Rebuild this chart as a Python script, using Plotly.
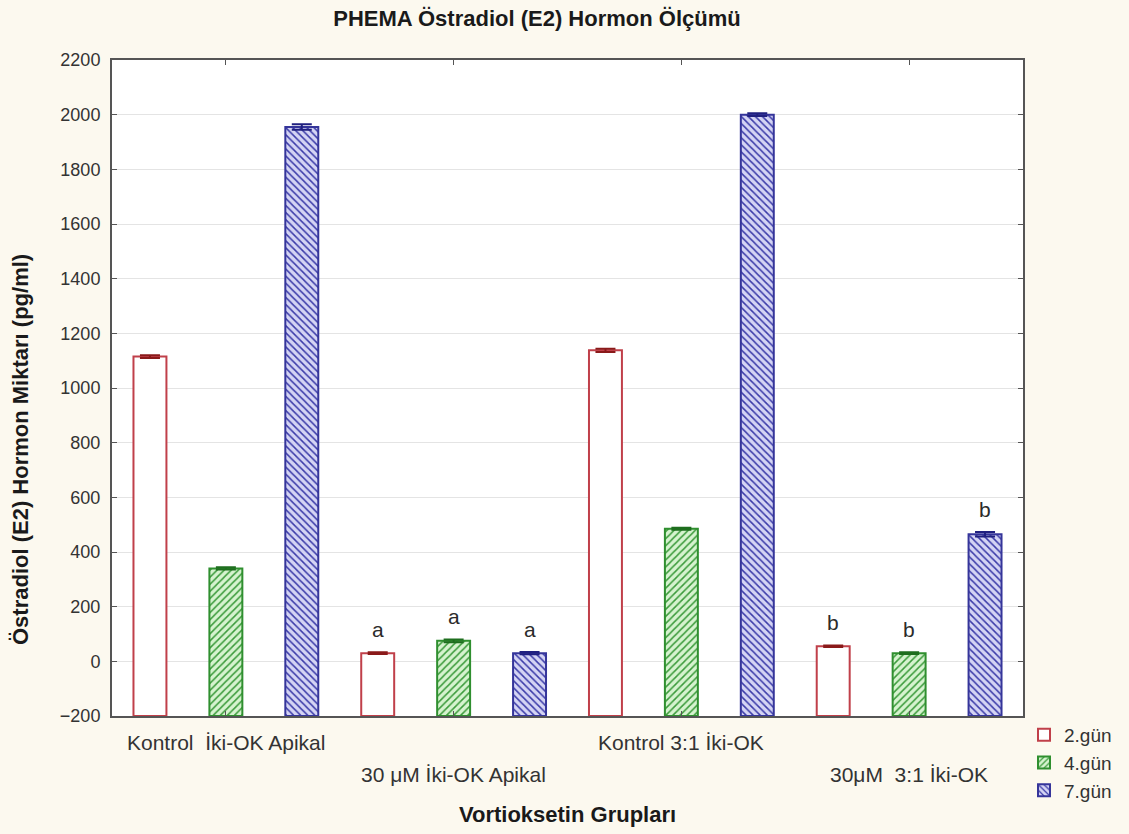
import plotly.graph_objects as go

categories = ["Kontrol  İki-OK Apikal", "30 μM İki-OK Apikal", "Kontrol 3:1 İki-OK", "30μM  3:1 İki-OK"]
label_rows = [1, 2, 1, 2]
series_names = ["2.gün", "4.gün", "7.gün"]
gun2 = [1115, 30, 1138, 55]
gun4 = [340, 75, 485, 30]
gun7 = [1955, 30, 2000, 465]
err2 = [5, 3, 6, 3]
err4 = [4, 5, 4, 3]
err7 = [10, 4, 5, 8]
letters2 = ["", "a", "", "b"]
letters4 = ["", "a", "", "b"]
letters7 = ["", "a", "", "b"]
y_min, y_max, y_step = -200, 2200, 200

series = [gun2, gun4, gun7]
errors = [err2, err4, err7]
letters = [letters2, letters4, letters7]

W, H = 1129, 834
ML, MR, MT, MB = 112, 106, 60, 118
PW, PH = W - ML - MR, H - MT - MB

FONT = "Liberation Sans, Arial, sans-serif"
BOLD_FONT = "Liberation Sans Narrow, Arial Narrow, Liberation Sans, sans-serif"


def px_x(px):
    return (px - ML) / PW


def px_y(py):
    return (H - MB - py) / PH


styles = [
    dict(line="#c0404a", err="#8a1a1a", pattern=dict(shape="", bgcolor="#ffffff")),
    dict(line="#2f8f2f", err="#1e6e1e",
         pattern=dict(shape="/", bgcolor="#d6f3cf", fgcolor="#3a9a3a", size=5, solidity=0.3, fillmode="replace")),
    dict(line="#35359a", err="#202080",
         pattern=dict(shape="\\", bgcolor="#d4d4f4", fgcolor="#3a3aa8", size=5, solidity=0.3, fillmode="replace")),
]

fig = go.Figure()
for name, vals, errs, st in zip(series_names, series, errors, styles):
    fig.add_trace(go.Bar(
        name=name,
        x=categories,
        y=[v - y_min for v in vals],
        base=y_min,
        marker=dict(color="#ffffff", line=dict(color=st["line"], width=2), pattern=st["pattern"]),
        error_y=dict(type="data", array=errs, color=st["err"], thickness=2, width=10),
        hovertemplate="%{x}: %{customdata}<extra>" + name + "</extra>",
        customdata=vals,
    ))

annotations = []
slot = 76
for i, (vals, errs, lets) in enumerate(zip(series, errors, letters)):
    for c, v, e, t in zip(categories, vals, errs, lets):
        if t:
            annotations.append(dict(
                x=c, y=v + e, xref="x", yref="y", text=t, showarrow=False,
                xshift=(i - 1) * slot, yshift=9, yanchor="bottom",
                font=dict(family=FONT, size=21, color="#2b2b2b"),
            ))

for c, r in zip(categories, label_rows):
    annotations.append(dict(
        x=c, y=0, xref="x", yref="paper", text=c, showarrow=False,
        yanchor="top", yshift=-13 if r == 1 else -45,
        font=dict(family=FONT, size=21, color="#333333"),
    ))

annotations.append(dict(
    x=px_x(20), y=px_y(450), xref="paper", yref="paper",
    text="<b>Östradiol (E2) Hormon Miktarı (pg/ml)</b>",
    showarrow=False, textangle=-90, xanchor="center", yanchor="middle",
    font=dict(family=BOLD_FONT, size=22, color="#1a1a1a"),
))

fig.update_layout(
    width=W, height=H,
    margin=dict(l=ML, r=MR, t=MT, b=MB, autoexpand=False),
    paper_bgcolor="#fcf9ef",
    plot_bgcolor="#ffffff",
    barmode="group",
    bargap=0,
    bargroupgap=0.566,
    title=dict(
        text="<b>PHEMA Östradiol (E2) Hormon Ölçümü</b>",
        x=537 / W, xanchor="center", y=1 - 18 / H, yanchor="middle",
        font=dict(family=BOLD_FONT, size=22, color="#1a1a1a"),
    ),
    legend=dict(
        xref="container", yref="container",
        x=1024 / W, y=1 - 716 / H, xanchor="left", yanchor="top",
        bgcolor="rgba(0,0,0,0)", tracegroupgap=0, itemwidth=30,
        font=dict(family=FONT, size=19, color="#333333"),
    ),
    xaxis=dict(
        type="category", showticklabels=False,
        ticks="inside", ticklen=5, tickcolor="#555555", mirror="ticks",
        showline=True, linecolor="#555555", linewidth=2, showgrid=False,
        title=dict(text="<b>Vortioksetin Grupları</b>", standoff=90,
                   font=dict(family=BOLD_FONT, size=22, color="#1a1a1a")),
    ),
    yaxis=dict(
        range=[y_min, y_max], dtick=y_step, tick0=y_min,
        ticks="inside", ticklen=5, tickcolor="#555555", mirror="ticks",
        showline=True, linecolor="#555555", linewidth=2,
        showgrid=True, gridcolor="#e4e4e4", gridwidth=1, zeroline=False,
        tickfont=dict(family=FONT, size=18, color="#333333"),
        ticklabelstandoff=6,
    ),
    annotations=annotations,
    font=dict(family=FONT),
)

fig.write_html("out.html")
